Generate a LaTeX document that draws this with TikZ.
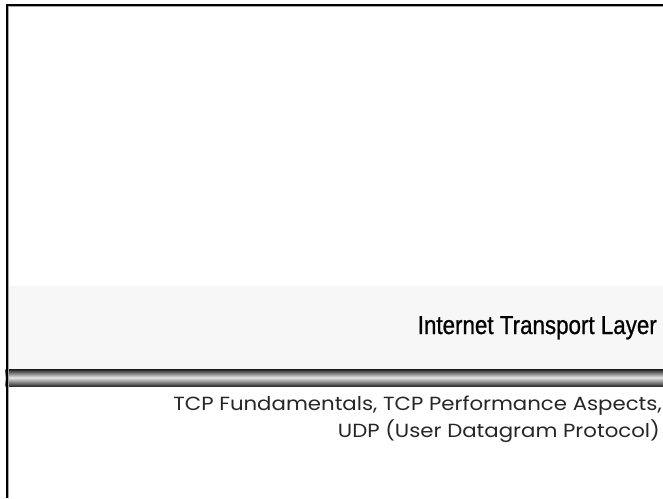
\documentclass[tikz,border=0pt]{standalone}
\usepackage{fontspec}
\newfontfamily\titlefont[FakeStretch=0.86,FakeBold=0.8]{Liberation Sans}
\newfontfamily\subfont[FakeStretch=1.12]{Poppins}
\usetikzlibrary{positioning}

\begin{document}
\begin{tikzpicture}[
  x=1pt, y=-1pt,
  frameline/.style={line width=1.4pt, black},
  frameshade/.style={line width=1pt, black!35},
  band/.style={fill=black!3, draw=none},
  title/.style={anchor=base east, inner sep=0pt, font=\titlefont\fontsize{26}{30}\selectfont},
  subtitle/.style={anchor=base east, inner sep=0pt, text=black!85, font=\subfont\fontsize{19}{22}\selectfont}
]

% -----------------------
% Layout parameters
% -----------------------
\def\W{663}
\def\H{498}
\def\xl{7}      % left frame line
\def\yt{5}      % top frame line
\def\ybandT{286}
\def\ybandB{369}
\def\ybarB{386}

\useasboundingbox[fill=white] (0,0) rectangle (\W,\H);

% -----------------------
% Title band and bar
% -----------------------
\fill[band] (\xl,\ybandT) rectangle (\W,\ybandB);
\shade[top color=black!90, bottom color=black!80, middle color=black!10]
  (\xl-1.5,\ybandB) rectangle (\W,\ybarB);

% -----------------------
% Frame
% -----------------------
\draw[frameshade] (\xl+1.3,\H) -- (\xl+1.3,\yt+1.3) -- (\W,\yt+1.3);
\draw[frameline] (\xl,\H) -- (\xl,\yt) -- (\W,\yt);

% -----------------------
% Texts
% -----------------------
\node[title] (head) at (657,334) {Internet Transport Layer};
\node[subtitle] (sub1) at (662,410) {TCP Fundamentals, TCP Performance Aspects,};
\node[subtitle] (sub2) at (660,437) {UDP (User Datagram Protocol)};

\end{tikzpicture}
\end{document}
